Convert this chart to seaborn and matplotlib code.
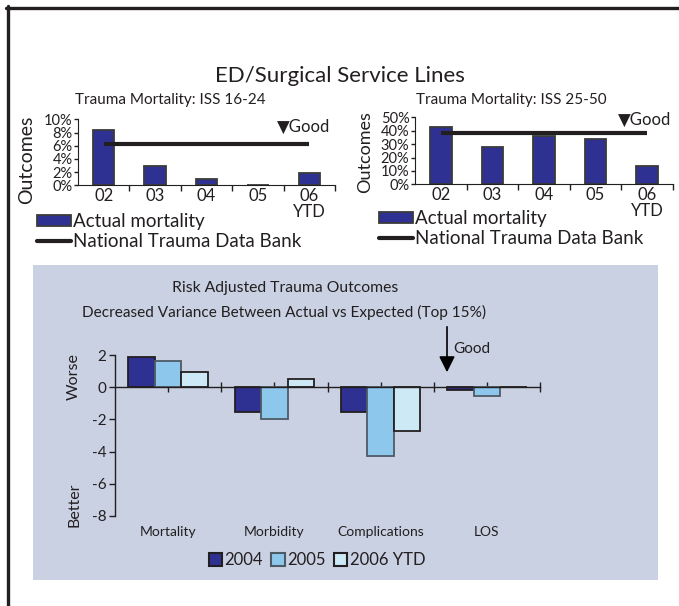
import numpy as np
import pandas as pd
import matplotlib
matplotlib.use('Agg')
import matplotlib.pyplot as plt
import seaborn as sns
from matplotlib.patches import Rectangle, FancyArrowPatch
from matplotlib.lines import Line2D
from matplotlib.ticker import PercentFormatter

# trauma mortality by year (percent)
years = ['02', '03', '04', '05', '06\nYTD']
iss_16_24_actual = [8.4, 3.0, 0.9, 0.0, 1.8]
iss_16_24_ntdb = [6.2, 6.2, 6.2, 6.2, 6.2]
iss_25_50_actual = [43, 28, 36, 34, 14]
iss_25_50_ntdb = [38.5, 38.5, 38.5, 38.5, 38.5]

# risk adjusted variance, actual vs expected
measures = ['Mortality', 'Morbidity', 'Complications', 'LOS']
outcome_years = ['2004', '2005', '2006 YTD']
var_2004 = [1.9, -1.55, -1.55, -0.15]
var_2005 = [1.65, -2.0, -4.25, -0.52]
var_2006 = [0.97, 0.5, -2.72, 0.0]

NAVY = '#2E3192'
LIGHT = '#8DC8EC'
PALE = '#CDE9F5'
PANEL = '#C9D1E3'
INK = '#231F20'

sns.set_style('ticks')
plt.rcParams['font.family'] = ['Lato', 'DejaVu Sans']
plt.rcParams['axes.unicode_minus'] = False
plt.rcParams['text.color'] = INK
plt.rcParams['axes.edgecolor'] = INK
plt.rcParams['xtick.color'] = INK
plt.rcParams['ytick.color'] = INK

W, H = 679, 606
fig = plt.figure(figsize=(W / 100, H / 100), dpi=100)


def px_axes(x0, y0, x1, y1):
    """Axes from a pixel box measured from the top-left corner."""
    return fig.add_axes([x0 / W, 1 - y1 / H, (x1 - x0) / W, (y1 - y0) / H])


def fx(x):
    return x / W


def fy(y):
    return 1 - y / H


# frame lines and shaded panel
fig.add_artist(Line2D([fx(6), 1], [fy(7.5), fy(7.5)], color=INK, lw=2.4))
fig.add_artist(Line2D([fx(7.5), fx(7.5)], [0, fy(6)], color=INK, lw=2.4))
fig.add_artist(Rectangle((fx(33), fy(580)), fx(658) - fx(33), fy(265) - fy(580),
                         facecolor=PANEL, edgecolor='none', zorder=0))

fig.text(0.5, fy(76), 'ED/Surgical Service Lines', ha='center', va='center', fontsize=16)


def mortality_panel(ax, actual, ntdb, ymax, step):
    sns.barplot(x=years, y=actual, color=NAVY, width=0.42, edgecolor='#3A3A3A',
                linewidth=1.3, saturation=1, errorbar=None, ax=ax)
    ax.plot(range(len(years)), ntdb, color=INK, lw=3, solid_capstyle='butt')
    ax.set_xlim(-0.5, len(years) - 0.5)
    ax.set_ylim(0, ymax)
    ax.set_yticks(np.arange(0, ymax + step / 2, step))
    ax.yaxis.set_major_formatter(PercentFormatter(xmax=100, decimals=0))
    ax.set_xticks(np.arange(len(years)) + 0.5, minor=True)
    ax.tick_params(axis='x', which='major', length=0, labelsize=12, pad=2)
    ax.tick_params(axis='x', which='minor', length=4, width=1)
    ax.tick_params(axis='y', length=3, width=1, labelsize=10.5, pad=1)
    for t in ax.get_xticklabels():
        t.set_linespacing(1.0)
    ax.set_xlabel('')
    ax.set_ylabel('')
    sns.despine(ax=ax)
    ax.set_facecolor('none')


# top-left chart
ax1 = px_axes(78, 119.3, 335, 185.3)
mortality_panel(ax1, iss_16_24_actual, iss_16_24_ntdb, 10, 2)
fig.text(fx(170), fy(100), 'Trauma Mortality: ISS 16-24', ha='center', va='center', fontsize=11)
fig.text(fx(27), fy(160), 'Outcomes', rotation=90, ha='center', va='center', fontsize=14)
fig.text(fx(277), fy(127), '\u25BCGood', ha='left', va='center', fontsize=12)

# top-right chart
ax2 = px_axes(415, 117.3, 673, 184.3)
mortality_panel(ax2, iss_25_50_actual, iss_25_50_ntdb, 50, 10)
fig.text(fx(511), fy(100), 'Trauma Mortality: ISS 25-50', ha='center', va='center', fontsize=11)
fig.text(fx(365), fy(152), 'Outcomes', rotation=90, ha='center', va='center', fontsize=13)
fig.text(fx(618), fy(120), '\u25BCGood', ha='left', va='center', fontsize=12)

top_handles = [Rectangle((0, 0), 1, 1, facecolor=NAVY, edgecolor='#3A3A3A', lw=1.3),
               Line2D([], [], color=INK, lw=3)]
top_labels = ['Actual mortality', 'National Trauma Data Bank']
for x0, y0 in [(37, 213), (379, 210)]:
    fig.legend(top_handles, top_labels, loc='upper left', bbox_to_anchor=(fx(x0), fy(y0)),
               frameon=False, fontsize=13.5, handlelength=1.8, handleheight=0.55,
               handletextpad=0.1, labelspacing=0.15, borderpad=0, borderaxespad=0)

# risk adjusted outcomes chart
df = pd.DataFrame({
    'measure': measures * 3,
    'year': [y for y in outcome_years for _ in measures],
    'value': var_2004 + var_2005 + var_2006,
})
ax3 = px_axes(115, 355.2, 540, 515.7)
sns.barplot(data=df, x='measure', y='value', hue='year', hue_order=outcome_years,
            palette=[NAVY, LIGHT, PALE], width=0.75, saturation=1, errorbar=None,
            legend=False, ax=ax3)
edge_colors = [INK, '#4D5B66', INK]
for cont, ec in zip(ax3.containers, edge_colors):
    for bar in cont:
        bar.set_edgecolor(ec)
        bar.set_linewidth(1.3)

ax3.set_facecolor('none')
ax3.set_xlim(-0.5, len(measures) - 0.5)
ax3.set_ylim(-8, 2)
ax3.set_yticks(np.arange(-8, 2.1, 2))
ax3.set_xticks(np.arange(len(measures)))
ax3.set_xticks(np.arange(len(measures)) + 0.5, minor=True)
ax3.tick_params(axis='x', which='both', direction='inout', length=7, width=1, labelbottom=False)
ax3.tick_params(axis='y', length=4, width=1, labelsize=11, pad=2)
ax3.spines['bottom'].set_position(('data', 0))
ax3.spines['left'].set_linewidth(1)
ax3.spines['bottom'].set_linewidth(1)
sns.despine(ax=ax3)
ax3.set_xlabel('')
ax3.set_ylabel('')
for i, m in enumerate(measures):
    ax3.text(i, -0.065, m, transform=ax3.get_xaxis_transform(), ha='center', va='top', fontsize=10)

fig.text(fx(285), fy(288), 'Risk Adjusted Trauma Outcomes', ha='center', va='center', fontsize=11.3)
fig.text(fx(284), fy(312), 'Decreased Variance Between Actual vs Expected (Top 15%)',
         ha='center', va='center', fontsize=11.1)
fig.text(fx(74), fy(377), 'Worse', rotation=90, ha='center', va='center', fontsize=11.5)
fig.text(fx(74), fy(505), 'Better', rotation=90, ha='center', va='center', fontsize=11.5)

fig.add_artist(FancyArrowPatch((fx(447), fy(324)), (fx(447), fy(375)),
                               transform=fig.transFigure, arrowstyle='-|>',
                               mutation_scale=24, lw=1.2, color='black'))
fig.text(fx(453), fy(349), 'Good', ha='left', va='center', fontsize=11)

low_handles = [Rectangle((0, 0), 1, 1, facecolor=c, edgecolor=e, lw=1.5)
               for c, e in zip([NAVY, LIGHT, PALE], edge_colors)]
fig.legend(low_handles, outcome_years, loc='center', bbox_to_anchor=(fx(317), fy(560)),
           ncol=3, frameon=False, fontsize=12, handlelength=0.8, handleheight=0.8,
           handletextpad=0.15, columnspacing=0.5, borderpad=0, borderaxespad=0)

fig.savefig('out.png', dpi=100)
